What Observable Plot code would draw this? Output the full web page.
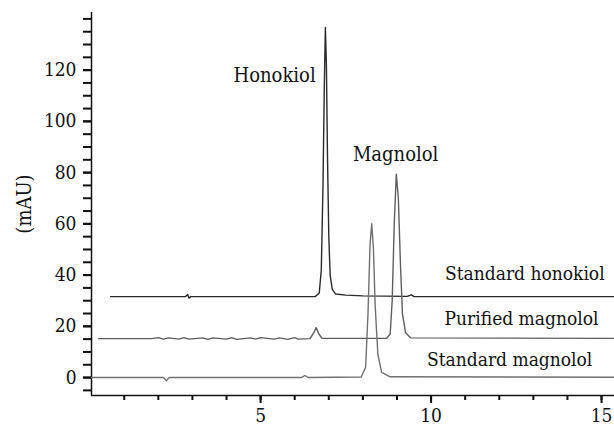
<!DOCTYPE html>
<html>
<head>
<meta charset="utf-8">
<script src="https://cdn.jsdelivr.net/npm/d3@7"></script>
<script src="https://cdn.jsdelivr.net/npm/@observablehq/plot@0.6"></script>
<style>
  html, body { margin: 0; padding: 0; background: #fff; }
  #chart svg text { font-stretch: condensed; }
</style>
</head>
<body>
<div id="chart"></div>
<script>
// Retention time (min) and absorbance (mAU)
const stdHonokiolT   = [0.6, 2.8, 2.86, 2.9, 2.95, 6.6, 6.72, 6.78, 6.83, 6.87, 6.9, 6.93, 6.96, 7.0, 7.04, 7.1, 7.2, 7.5, 8.0, 9.3, 9.42, 9.5, 15.38];
const stdHonokiolMAU = [31.6, 31.6, 32.4, 31.0, 31.6, 31.6, 33, 42, 75, 115, 136.7, 122, 88, 55, 40, 34.5, 32.6, 32.2, 31.9, 31.7, 32.3, 31.6, 31.6];

const purMagnololT   = [0.25, 1.8, 2.0, 2.15, 2.3, 2.6, 2.75, 2.9, 3.3, 3.45, 3.6, 4.0, 4.15, 4.3, 4.7, 4.85, 5.0, 5.4, 5.55, 5.8, 6.0, 6.1, 6.45, 6.56, 6.63, 6.7, 6.8, 8.7, 8.8, 8.86, 8.92, 8.98, 9.04, 9.1, 9.16, 9.25, 9.4, 15.38];
const purMagnololMAU = [15.2, 15.2, 15.6, 15.0, 15.5, 15.0, 15.6, 15.0, 15.5, 14.9, 15.5, 15.0, 15.6, 14.9, 15.5, 15.0, 15.6, 15.0, 15.5, 14.9, 15.6, 15.0, 15.2, 17.5, 19.5, 17.2, 15.3, 15.3, 17, 30, 60, 79.4, 70, 45, 25, 17.5, 15.5, 15.3];

const stdMagnololT   = [0.04, 2.15, 2.24, 2.32, 6.2, 6.3, 6.4, 7.95, 8.08, 8.15, 8.21, 8.26, 8.31, 8.36, 8.44, 8.55, 8.8, 15.38];
const stdMagnololMAU = [0, 0, -1.2, 0, 0, 0.8, 0, 0.2, 4, 25, 52, 60.1, 50, 28, 9, 2, 0.3, 0.1];

const seriesNames  = ["Standard honokiol", "Purified magnolol", "Standard magnolol"];
const seriesColors = ["#2a2a2a", "#5e5e5e", "#707070"];

// Annotations
const peakLabels  = ["Honokiol", "Magnolol"];
const peakLabelX  = [5.41, 8.96];
const peakLabelY  = [118, 87];
const traceLabelX = [15.09, 14.91, 14.73];
const traceLabelY = [40.3, 22.8, 7.0];

// Axes
const xMajor = [5, 10, 15];
const xMinor = [1, 2, 3, 4, 5, 6, 7, 8, 9, 10, 11, 12, 13, 14, 15];
const yMajor = [0, 20, 40, 60, 80, 100, 120];
const yMinor = [-5, 0, 5, 10, 15, 20, 25, 30, 35, 40, 45, 50, 55, 60, 65, 70, 75, 80, 85, 90, 95, 100, 105, 110, 115, 120, 125, 130, 135, 140];
const xDomain = [0.04, 15.38];
const yDomain = [-7, 142.5];

const toRows = (ts, vs, name) => ts.map((t, i) => ({t, v: vs[i], name}));
const traces = [
  toRows(stdHonokiolT, stdHonokiolMAU, seriesNames[0]),
  toRows(purMagnololT, purMagnololMAU, seriesNames[1]),
  toRows(stdMagnololT, stdMagnololMAU, seriesNames[2])
];
const traceLabels = seriesNames.map((name, i) => ({name, x: traceLabelX[i], y: traceLabelY[i]}));
const peaks = peakLabels.map((name, i) => ({name, x: peakLabelX[i], y: peakLabelY[i]}));

const serif = "DejaVu Serif";

const chart = Plot.plot({
  width: 614,
  height: 428,
  marginLeft: 91,
  marginRight: 0,
  marginTop: 12,
  marginBottom: 33,
  style: {background: "#fff", color: "#111", fontFamily: serif},
  x: {domain: xDomain},
  y: {domain: yDomain},
  marks: [
    // minor and major ticks
    Plot.axisX({ticks: xMinor, tickSize: 5, text: null, stroke: "#111", strokeWidth: 2, label: null}),
    Plot.axisX({ticks: xMajor, tickSize: 8, tickPadding: 5, stroke: "#111", strokeWidth: 2, label: null, fontSize: 19, fontFamily: serif}),
    Plot.axisY({ticks: yMinor, tickSize: 8, text: null, stroke: "#111", strokeWidth: 2, label: null}),
    Plot.axisY({ticks: yMajor, tickSize: 8, tickPadding: 7, stroke: "#111", strokeWidth: 2, label: null, fontSize: 19, fontFamily: serif}),
    // axis lines
    Plot.ruleX([xDomain[0]], {stroke: "#111", strokeWidth: 1.5}),
    Plot.ruleY([yDomain[0]], {stroke: "#111", strokeWidth: 1.5}),
    // traces
    ...traces.map((rows, i) => Plot.line(rows, {x: "t", y: "v", stroke: seriesColors[i], strokeWidth: 1.4})),
    // labels
    Plot.text(peaks, {x: "x", y: "y", text: "name", textAnchor: "middle", fontSize: 20, fontFamily: serif, fill: "#111"}),
    Plot.text(traceLabels, {x: "x", y: "y", text: "name", textAnchor: "end", fontSize: 19, fontFamily: serif, fill: "#111"}),
    Plot.text(["(mAU)"], {frameAnchor: "left", textAnchor: "middle", rotate: -90, dx: -67, fontSize: 20, fontFamily: serif, fill: "#111"})
  ]
});
document.getElementById("chart").appendChild(chart);
</script>
</body>
</html>
